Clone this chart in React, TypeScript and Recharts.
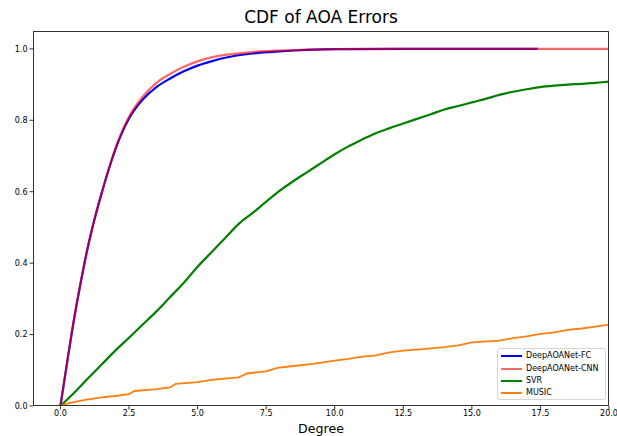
import React from 'react';
import { LineChart, Line, XAxis, YAxis } from 'recharts';

const fcX = [0, 0.25, 0.5, 0.75, 1, 1.25, 1.5, 1.75, 2, 2.5, 3, 3.5, 4, 4.5, 5, 5.5, 6, 7, 8, 9, 10, 12.5, 15, 17.4];
const fcY = [0, 0.125, 0.245, 0.35, 0.445, 0.525, 0.595, 0.66, 0.718, 0.805, 0.858, 0.893, 0.917, 0.937, 0.953, 0.965, 0.975, 0.987, 0.993, 0.997, 0.999, 1, 1, 1];
const cnnX = [0, 0.25, 0.5, 0.75, 1, 1.25, 1.5, 1.75, 2, 2.5, 3, 3.5, 4, 4.5, 5, 5.5, 6, 7, 8, 9, 10, 12.5, 15, 17.5, 20];
const cnnY = [0, 0.125, 0.245, 0.35, 0.445, 0.525, 0.595, 0.66, 0.72, 0.81, 0.866, 0.905, 0.93, 0.95, 0.965, 0.976, 0.983, 0.991, 0.995, 0.998, 0.999, 1, 1, 1, 1];
const svrX = [0, 0.5, 1, 1.5, 2, 2.5, 3, 3.5, 4, 4.5, 5, 5.5, 6, 6.5, 7, 7.5, 8, 8.5, 9, 9.5, 10, 10.5, 11, 11.5, 12, 12.5, 13, 13.5, 14, 14.5, 15, 15.5, 16, 16.5, 17, 17.5, 18, 18.5, 19, 19.5, 20];
const svrY = [0, 0.037, 0.077, 0.116, 0.155, 0.191, 0.228, 0.265, 0.305, 0.345, 0.39, 0.43, 0.47, 0.51, 0.54, 0.572, 0.603, 0.63, 0.655, 0.68, 0.705, 0.727, 0.746, 0.764, 0.778, 0.791, 0.804, 0.817, 0.83, 0.84, 0.85, 0.86, 0.871, 0.88, 0.887, 0.893, 0.897, 0.9, 0.902, 0.905, 0.908];
const musicX = [0, 0.3, 0.9, 1.5, 2.0, 2.5, 2.7, 3.5, 4.0, 4.2, 5.0, 5.5, 6.5, 6.8, 7.5, 7.9, 8.5, 9.2, 10, 10.5, 11, 11.5, 12, 12.5, 13, 14, 14.5, 15, 16, 16.5, 17, 17.5, 18, 18.5, 19, 19.5, 20];
const musicY = [0, 0.008, 0.017, 0.024, 0.028, 0.033, 0.042, 0.047, 0.052, 0.062, 0.067, 0.073, 0.08, 0.091, 0.097, 0.107, 0.112, 0.118, 0.127, 0.132, 0.138, 0.142, 0.15, 0.155, 0.158, 0.165, 0.17, 0.178, 0.183, 0.19, 0.195, 0.202, 0.206, 0.213, 0.217, 0.222, 0.228];

const xTicks = [0, 2.5, 5, 7.5, 10, 12.5, 15, 17.5, 20];
const yTicks = [0, 0.2, 0.4, 0.6, 0.8, 1.0];

const seriesNames = ['DeepAOANet-FC', 'DeepAOANet-CNN', 'SVR', 'MUSIC'];
const seriesColors = ['#0000ff', '#ff0000', '#008000', '#ff7f0e'];
const seriesOpacity = [1, 0.6, 1, 1];

const toPts = (xs: number[], ys: number[]) => xs.map((x, i) => ({ x, y: ys[i] }));

const FONT = '"DejaVu Sans", sans-serif';

function LegendBox() {
  return (
    <div
      style={{
        position: 'absolute',
        left: 497,
        top: 348,
        width: 109,
        height: 52,
        border: '1px solid #d6d6d6',
        borderRadius: 3,
        background: 'rgba(255,255,255,0.8)',
        fontFamily: FONT,
        fontSize: 8,
        color: '#000',
        boxSizing: 'border-box',
        paddingTop: 1,
      }}
    >
      {seriesNames.map((n, i) => (
        <div key={n} style={{ display: 'flex', alignItems: 'center', height: 12.4 }}>
          <div
            style={{
              marginLeft: 3,
              width: 21,
              height: 2,
              background: seriesColors[i],
              opacity: seriesOpacity[i],
            }}
          />
          <span style={{ marginLeft: 4, lineHeight: '10px' }}>{n}</span>
        </div>
      ))}
    </div>
  );
}

export default function App() {
  const tickStyle = { fontFamily: FONT, fontSize: 8, fill: '#000' };
  return (
    <div style={{ position: 'absolute', left: 0, top: 0, width: 617, height: 436, background: '#fff' }}>
      <div
        style={{
          position: 'absolute',
          left: 33,
          width: 576,
          top: 7,
          textAlign: 'center',
          fontFamily: FONT,
          fontSize: 17,
          color: '#000',
          lineHeight: '20px',
        }}
      >
        CDF of AOA Errors
      </div>
      <LineChart width={617} height={436} margin={{ top: 31, right: 8, bottom: 0, left: 0 }}>
        <XAxis
          type="number"
          dataKey="x"
          domain={[-1, 20]}
          allowDataOverflow
          ticks={xTicks}
          tickFormatter={(v: number) => v.toFixed(1)}
          tick={tickStyle}
          tickSize={3.5}
          tickMargin={1}
          stroke="#333"
          axisLine={false}
          height={30}
        />
        <YAxis
          type="number"
          domain={[0, 1.05]}
          allowDataOverflow
          ticks={yTicks}
          tickFormatter={(v: number) => v.toFixed(1)}
          tick={tickStyle}
          tickSize={3.5}
          tickMargin={2}
          stroke="#333"
          axisLine={false}
          width={33}
        />
        <Line data={toPts(fcX, fcY)} dataKey="y" name={seriesNames[0]} stroke={seriesColors[0]} strokeWidth={2.2} dot={false} type="monotone" isAnimationActive={false} />
        <Line data={toPts(cnnX, cnnY)} dataKey="y" name={seriesNames[1]} stroke={seriesColors[1]} strokeOpacity={0.6} strokeWidth={2.2} dot={false} type="monotone" isAnimationActive={false} />
        <Line data={toPts(svrX, svrY)} dataKey="y" name={seriesNames[2]} stroke={seriesColors[2]} strokeWidth={2.2} dot={false} type="monotone" isAnimationActive={false} />
        <Line data={toPts(musicX, musicY)} dataKey="y" name={seriesNames[3]} stroke={seriesColors[3]} strokeWidth={1.8} dot={false} type="linear" isAnimationActive={false} />
      </LineChart>
      <div
        style={{
          position: 'absolute',
          left: 33,
          top: 31,
          width: 576,
          height: 375,
          border: '1px solid #333',
          boxSizing: 'border-box',
          pointerEvents: 'none',
        }}
      />
      <LegendBox />
      <div
        style={{
          position: 'absolute',
          left: 33,
          width: 576,
          top: 421,
          textAlign: 'center',
          fontFamily: FONT,
          fontSize: 12.6,
          color: '#000',
          lineHeight: '15px',
        }}
      >
        Degree
      </div>
    </div>
  );
}
